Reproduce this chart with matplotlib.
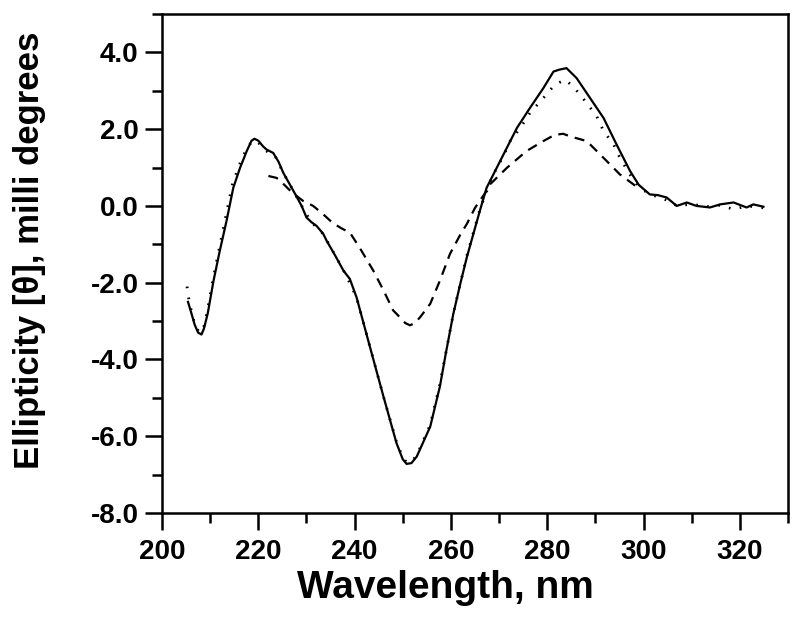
import matplotlib
matplotlib.use('Agg')
import matplotlib.pyplot as plt
from matplotlib.ticker import MultipleLocator, FormatStrFormatter

plt.rcParams['font.family'] = ['Liberation Sans', 'DejaVu Sans']
plt.rcParams['font.weight'] = 'bold'

# solid trace
wl_solid = [205.4, 206.0, 206.8, 207.5, 208.2, 208.7, 209.5, 210.7, 212.0, 213.4, 214.8, 216.2,
            217.6, 218.6, 219.2, 220.0, 221.0, 221.7, 223.1, 224.2, 225.2, 227.3, 229.0, 230.0,
            231.0, 232.1, 233.5, 234.2, 236.0, 237.7, 239.0, 240.4, 243.2, 246.0, 248.7, 250.0,
            250.8, 251.8, 252.9, 255.7, 257.7, 259.0, 260.5, 262.0, 263.3, 264.5, 266.0, 267.4,
            269.5, 271.6, 273.7, 276.4, 279.2, 281.3, 282.5, 284.0, 286.1, 288.9, 291.7, 294.4,
            297.2, 299.0, 301.3, 303.0, 304.8, 306.9, 309.0, 311.0, 313.8, 315.9, 318.7, 321.4,
            322.8, 324.9]
el_solid = [-2.5, -2.75, -3.1, -3.3, -3.35, -3.2, -2.8, -1.95, -1.17, -0.39, 0.47, 0.99,
            1.43, 1.7, 1.75, 1.7, 1.55, 1.47, 1.38, 1.15, 0.86, 0.39, 0.0, -0.3,
            -0.42, -0.52, -0.73, -0.91, -1.3, -1.69, -1.9, -2.38, -3.68, -4.97, -6.18, -6.6,
            -6.72, -6.7, -6.53, -5.75, -4.71, -3.8, -2.81, -2.0, -1.34, -0.8, -0.13, 0.47,
            0.99, 1.51, 2.03, 2.55, 3.07, 3.5, 3.55, 3.59, 3.33, 2.81, 2.29, 1.6,
            0.91, 0.55, 0.3, 0.28, 0.22, 0.0, 0.09, 0.0, -0.04, 0.04, 0.09, -0.04,
            0.04, -0.02]

# dotted trace
wl_dot = [205.2, 205.6, 206.3, 207.0, 207.8, 208.6, 209.4, 210.6, 211.9, 213.2, 214.6, 216.0,
          217.4, 218.5, 219.2, 220.0, 221.0, 222.0, 223.5, 225.2, 227.3, 229.0, 231.0, 233.5,
          236.0, 238.0, 240.4, 243.2, 246.0, 248.7, 250.0, 250.8, 251.8, 252.9, 255.7, 257.7,
          260.5, 263.3, 266.0, 268.5, 270.9, 272.3, 274.4, 276.4, 279.2, 281.5, 283.7, 285.5,
          288.2, 290.3, 291.7, 293.8, 295.1, 297.0, 299.0, 301.3, 304.0, 307.0, 310.0, 313.0,
          316.0, 318.7, 321.5, 324.9]
el_dot = [-2.1, -2.45, -2.85, -3.15, -3.3, -3.2, -2.75, -1.9, -1.1, -0.3, 0.55, 1.05,
          1.45, 1.65, 1.7, 1.65, 1.5, 1.4, 1.3, 0.86, 0.39, 0.0, -0.42, -0.73,
          -1.3, -1.75, -2.38, -3.68, -4.97, -6.15, -6.55, -6.68, -6.66, -6.5, -5.7, -4.65,
          -2.8, -1.3, -0.1, 0.75, 1.3, 1.69, 2.03, 2.42, 2.81, 3.15, 3.29, 3.1,
          2.68, 2.33, 1.95, 1.6, 1.25, 0.85, 0.5, 0.3, 0.2, 0.0, 0.05, -0.02,
          0.02, -0.09, 0.0, -0.05]

# dashed trace
wl_dash = [222.1, 223.8, 225.0, 227.0, 229.3, 231.4, 233.5, 235.5, 237.5, 239.0, 241.1, 243.9,
           246.0, 248.0, 249.4, 250.5, 251.5, 252.5, 253.6, 255.7, 257.7, 259.8, 261.9, 263.3,
           265.0, 267.4, 268.1, 271.6, 275.7, 279.2, 281.5, 283.3, 285.0, 286.5, 288.2, 291.0,
           295.1, 298.9]
el_dash = [0.78, 0.73, 0.6, 0.35, 0.13, 0.0, -0.22, -0.45, -0.6, -0.69, -1.1, -1.69,
           -2.2, -2.72, -2.9, -3.05, -3.11, -3.05, -2.9, -2.55, -1.95, -1.25, -0.76, -0.47,
           -0.05, 0.39, 0.56, 0.99, 1.43, 1.69, 1.85, 1.88, 1.8, 1.75, 1.69, 1.34,
           0.82, 0.47]

fig = plt.figure(figsize=(8, 6.22), dpi=100)
ax = fig.add_axes([0.2025, 0.1752, 0.7825, 0.8023])

ax.plot(wl_solid, el_solid, color='black', lw=1.6, ls='-')
ax.plot(wl_dot, el_dot, color='black', lw=2.0, ls=(0, (0.6, 3.4)))
ax.plot(wl_dash, el_dash, color='black', lw=1.6, ls=(0, (4.5, 3.2)))

ax.set_xlim(200, 330)
ax.set_ylim(-8, 5)
ax.set_xticks([200, 220, 240, 260, 280, 300, 320])
ax.xaxis.set_minor_locator(MultipleLocator(10))
ax.yaxis.set_major_locator(MultipleLocator(2))
ax.yaxis.set_minor_locator(MultipleLocator(1))
ax.yaxis.set_major_formatter(FormatStrFormatter('%.1f'))
ax.tick_params(which='both', direction='out', width=1.8, top=False, right=False)
ax.tick_params(which='major', length=12, labelsize=20)
ax.tick_params(axis='x', which='major', pad=7)
ax.tick_params(axis='y', which='major', pad=5)
ax.tick_params(which='minor', length=7)
for s in ax.spines.values():
    s.set_linewidth(1.8)

ax.set_xlabel('Wavelength, nm', fontsize=28, fontweight='bold')
ax.xaxis.set_label_coords(0.452, -0.115)
ax.set_ylabel('Ellipticity [\u03b8], milli degrees', fontsize=25, fontweight='bold')
ax.yaxis.set_label_coords(-0.185, 0.527)

plt.savefig('out.png', dpi=100)
